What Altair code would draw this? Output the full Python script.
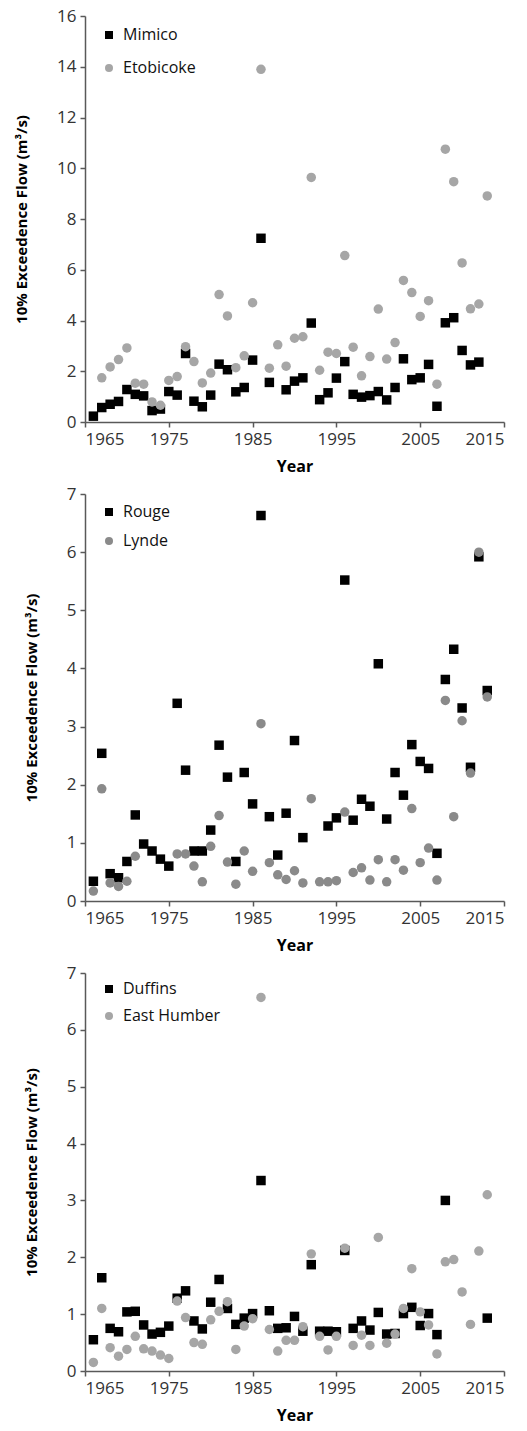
import altair as alt
import pandas as pd

years = list(range(1966, 2014))

# Panel 1
mimico = [0.23, 0.57, 0.70, 0.81, 1.28, 1.09, 1.03, 0.45, 0.51, 1.20,
          1.06, 2.70, 0.82, 0.60, 1.06, 2.28, 2.06, 1.19, 1.36, 2.44,
          7.24, 1.56, None, 1.27, 1.61, 1.74, 3.90, 0.88, 1.15, 1.73,
          2.38, 1.09, 0.98, 1.04, 1.20, 0.87, 1.36, 2.49, 1.67, 1.74,
          2.27, 0.62, 3.91, 4.11, 2.82, 2.25, 2.36, None]
etobicoke = [None, 1.74, 2.17, 2.46, 2.92, 1.53, 1.49, 0.79, 0.66, 1.64,
             1.79, 2.97, 2.38, 1.54, 1.93, 5.02, 4.18, 2.14, 2.61, 4.70,
             13.9, 2.12, 3.04, 2.20, 3.30, 3.36, 9.64, 2.04, 2.75, 2.70,
             6.56, 2.95, 1.82, 2.58, 4.45, 2.48, 3.13, 5.58, 5.10, 4.16,
             4.78, 1.49, 10.75, 9.47, 6.27, 4.46, 4.65, 8.91]

# Panel 2
rouge = [0.34, 2.54, 0.47, 0.40, 0.68, 1.48, 0.98, 0.86, 0.72, 0.60,
         3.40, 2.25, 0.86, 0.86, 1.22, 2.68, 2.13, 0.68, 2.21, 1.67,
         6.63, 1.45, 0.79, 1.51, 2.76, 1.09, None, None, 1.29, 1.43,
         5.52, 1.39, 1.75, 1.63, 4.08, 1.41, 2.21, 1.82, 2.69, 2.40,
         2.28, 0.82, 3.81, 4.33, 3.32, 2.30, 5.92, 3.62]
lynde = [0.17, 1.93, 0.31, 0.25, 0.34, 0.77, None, None, None, None,
         0.81, 0.81, 0.60, 0.33, 0.94, 1.47, 0.67, 0.29, 0.86, 0.51,
         3.05, 0.66, 0.45, 0.37, 0.52, 0.31, 1.76, 0.33, 0.33, 0.35,
         1.53, 0.49, 0.57, 0.36, 0.71, 0.33, 0.71, 0.53, 1.59, 0.66,
         0.91, 0.36, 3.45, 1.45, 3.10, 2.20, 6.00, 3.51]

# Panel 3
duffins = [0.55, 1.64, 0.75, 0.69, 1.04, 1.05, 0.81, 0.65, 0.68, 0.79,
           1.28, 1.41, 0.88, 0.74, 1.21, 1.61, 1.10, 0.82, 0.93, 1.01,
           3.35, 1.06, 0.75, 0.76, 0.96, 0.70, 1.87, 0.70, 0.70, 0.69,
           2.12, 0.75, 0.88, 0.72, 1.03, 0.65, 0.66, 1.01, 1.12, 0.80,
           1.01, 0.64, 3.00, None, None, None, None, 0.93]
east_humber = [0.15, 1.10, 0.41, 0.26, 0.38, 0.61, 0.39, 0.35, 0.28, 0.22,
               1.23, 0.94, 0.50, 0.47, 0.90, 1.05, 1.22, 0.38, 0.79, 0.92,
               6.57, 0.73, 0.35, 0.54, 0.54, 0.78, 2.06, 0.61, 0.37, 0.61,
               2.16, 0.45, 0.63, 0.45, 2.35, 0.49, 0.65, 1.10, 1.80, 1.04,
               0.81, 0.30, 1.92, 1.96, 1.39, 0.82, 2.11, 3.10]

x_ticks = [1965, 1975, 1985, 1995, 2005, 2015]
FONT = "Open Sans"
YTITLE = "10% Exceedence Flow (m³/s)"


def panel(names, s1, s2, c2, ymax, ystep, height, rowpad, ly):
    rows = []
    for name, vals in ((names[0], s1), (names[1], s2)):
        for yr, v in zip(years, vals):
            if v is not None:
                rows.append({"Year": yr, "Flow": v, "Series": name})
    df = pd.DataFrame(rows)
    leg = alt.Legend(orient="none", legendX=16, legendY=ly, title=None,
                     rowPadding=rowpad, labelFontSize=16, labelFont=FONT,
                     labelColor="#111111", symbolSize=64, labelOffset=6,
                     padding=0, symbolStrokeWidth=0)
    return alt.Chart(df).mark_point(filled=True, opacity=1, size=90, strokeWidth=0).encode(
        x=alt.X("Year:Q", scale=alt.Scale(domain=[1965, 2015], nice=False, zero=False),
                axis=alt.Axis(values=x_ticks, format="d", title="Year", titlePadding=11)),
        y=alt.Y("Flow:Q", scale=alt.Scale(domain=[0, ymax], nice=False),
                axis=alt.Axis(values=list(range(0, ymax + 1, ystep)), title=YTITLE,
                              titlePadding=27, titleFontSize=15)),
        color=alt.Color("Series:N", scale=alt.Scale(domain=names, range=["#000000", c2]), legend=leg),
        shape=alt.Shape("Series:N", scale=alt.Scale(domain=names, range=["square", "circle"]), legend=leg),
    ).properties(width=419, height=height)


p1 = panel(["Mimico", "Etobicoke"], mimico, etobicoke, "#a6a6a6", 16, 2, 406, 17, 11)
p2 = panel(["Rouge", "Lynde"], rouge, lynde, "#8a8a8a", 7, 1, 407, 13, 10)
p3 = panel(["Duffins", "East Humber"], duffins, east_humber, "#a6a6a6", 7, 1, 398, 11, 8)

chart = alt.vconcat(p1, p2, p3, spacing=72, bounds="flush").resolve_scale(
    color="independent", shape="independent", y="independent", x="independent"
).properties(
    padding={"left": 14, "top": 7, "right": 5, "bottom": 5}
).configure_axis(
    labelFont=FONT, labelFontSize=17, labelColor="#333333",
    titleFont=FONT, titleFontSize=16, titleFontWeight="bold", titleColor="#000000",
    domainColor="#595959", tickColor="#595959", domainWidth=1.5, tickWidth=1.5,
    tickSize=5, grid=False, labelPadding=4,
).configure_view(stroke=None)

chart.save("out.html", embed_options={"renderer": "svg", "actions": False})
